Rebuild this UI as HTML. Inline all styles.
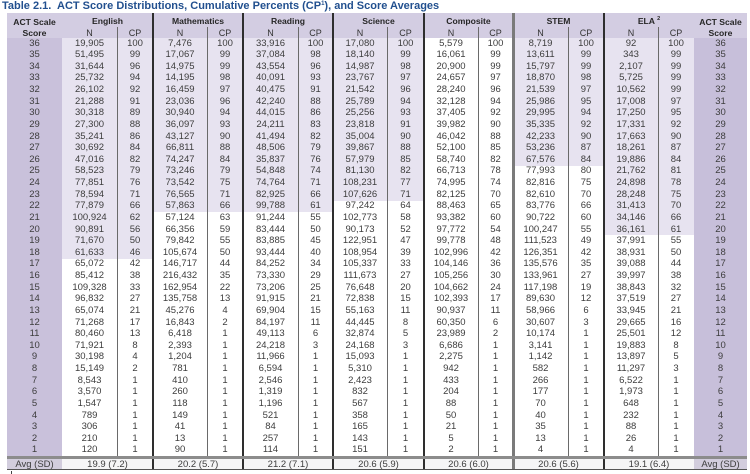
<!DOCTYPE html>
<html>
<head>
<meta charset="utf-8">
<style>
html,body{margin:0;padding:0}
body{width:750px;height:474px;background:#fff;position:relative;overflow:hidden;font-family:"Liberation Sans",Arial,sans-serif}
.a{position:absolute}
.t{position:absolute;text-align:center;white-space:nowrap}
.h{font-weight:bold;font-size:8.6px;color:#262626;line-height:12px;height:12px}
.s{font-size:9px;color:#333;line-height:12px;height:12px}
#g{position:absolute;left:7px;top:37.5px;width:740px;display:grid;grid-template-columns:55px 55px 36px 54px 36px 55px 35px 54px 37px 54px 35px 55px 36px 54px 36px 53px;grid-auto-rows:11.64px;font-size:9.5px;color:#3d3d3d}
#g span{text-align:center;line-height:11.64px;white-space:nowrap}
.av{position:absolute;top:458.5px;height:11px;line-height:11px;font-size:9.5px;color:#3d3d3d;text-align:center}
</style>
</head>
<body>
<div class="a" style="left:2px;top:0;height:12px;line-height:12px;font-size:11px;font-weight:bold;color:#22508f;white-space:nowrap">Table 2.1.&nbsp; ACT Score Distributions, Cumulative Percents (CP<sup style="font-size:6px;vertical-align:4px;line-height:0">1</sup>), and Score Averages</div>

<!-- backgrounds -->
<div class="a" style="left:7px;top:13px;width:740px;height:24.5px;background:#d3cde2"></div>
<div class="a" style="left:7px;top:37.5px;width:55px;height:418px;background:#c9c1db"></div>
<div class="a" style="left:694px;top:37.5px;width:53px;height:418px;background:#c7bfda"></div>
<div class="a" style="left:62px;top:37.5px;width:91px;height:221.2px;background:#e7e3f0"></div>
<div class="a" style="left:153px;top:37.5px;width:90px;height:174.6px;background:#e7e3f0"></div>
<div class="a" style="left:243px;top:37.5px;width:90px;height:174.6px;background:#e7e3f0"></div>
<div class="a" style="left:333px;top:37.5px;width:91px;height:163px;background:#e7e3f0"></div>
<div class="a" style="left:513px;top:37.5px;width:91px;height:128px;background:#e7e3f0"></div>
<div class="a" style="left:604px;top:37.5px;width:90px;height:197.9px;background:#e7e3f0"></div>
<!-- avg row bg -->
<div class="a" style="left:7px;top:458.5px;width:740px;height:11px;background:#f5f5f6"></div>
<div class="a" style="left:7px;top:458.5px;width:55px;height:11px;background:#d2cddd"></div>
<div class="a" style="left:694px;top:458.5px;width:53px;height:11px;background:#d2cddd"></div>

<!-- thin N/CP lines -->
<div class="a" style="left:116.5px;top:27px;width:1px;height:428.5px;background:#6a6a6a"></div>
<div class="a" style="left:206.5px;top:27px;width:1px;height:428.5px;background:#6a6a6a"></div>
<div class="a" style="left:297.5px;top:27px;width:1px;height:428.5px;background:#6a6a6a"></div>
<div class="a" style="left:386.5px;top:27px;width:1px;height:428.5px;background:#6a6a6a"></div>
<div class="a" style="left:477.5px;top:27px;width:1px;height:428.5px;background:#6a6a6a"></div>
<div class="a" style="left:567.5px;top:27px;width:1px;height:428.5px;background:#6a6a6a"></div>
<div class="a" style="left:657.5px;top:27px;width:1px;height:428.5px;background:#6a6a6a"></div>
<!-- thick subject lines -->
<div class="a" style="left:152px;top:13px;width:2px;height:457px;background:#2e2e2e"></div>
<div class="a" style="left:242px;top:13px;width:2px;height:457px;background:#2e2e2e"></div>
<div class="a" style="left:332px;top:13px;width:2px;height:457px;background:#2e2e2e"></div>
<div class="a" style="left:423px;top:13px;width:2px;height:457px;background:#2e2e2e"></div>
<div class="a" style="left:511.5px;top:13px;width:3px;height:457px;background:#7a7a7a"></div>
<div class="a" style="left:603px;top:13px;width:2px;height:457px;background:#2e2e2e"></div>
<!-- avg separators -->
<div class="a" style="left:7px;top:455.5px;width:740px;height:3px;background:#8c8c8c"></div>
<div class="a" style="left:7px;top:469.3px;width:740px;height:1px;background:#555"></div>
<div class="a" style="left:10.5px;top:471px;width:1px;height:3px;background:#444"></div>

<!-- header text -->
<div class="t h" style="left:7px;width:55px;top:15.5px">ACT Scale</div>
<div class="t h" style="left:7px;width:55px;top:27px">Score</div>
<div class="t h" style="left:694px;width:53px;top:15.5px">ACT Scale</div>
<div class="t h" style="left:694px;width:53px;top:27px">Score</div>
<div class="t h" style="left:62px;width:91px;top:14.5px">English</div>
<div class="t h" style="left:153px;width:90px;top:14.5px">Mathematics</div>
<div class="t h" style="left:243px;width:90px;top:14.5px">Reading</div>
<div class="t h" style="left:333px;width:91px;top:14.5px">Science</div>
<div class="t h" style="left:424px;width:89px;top:14.5px">Composite</div>
<div class="t h" style="left:513px;width:91px;top:14.5px">STEM</div>
<div class="t h" style="left:604px;width:90px;top:14.5px">ELA <sup style="font-size:5.5px;vertical-align:4px;line-height:0">2</sup></div>

<div class="t s" style="left:62px;width:55px;top:27px">N</div>
<div class="t s" style="left:117px;width:36px;top:27px">CP</div>
<div class="t s" style="left:153px;width:54px;top:27px">N</div>
<div class="t s" style="left:207px;width:36px;top:27px">CP</div>
<div class="t s" style="left:243px;width:55px;top:27px">N</div>
<div class="t s" style="left:298px;width:35px;top:27px">CP</div>
<div class="t s" style="left:333px;width:54px;top:27px">N</div>
<div class="t s" style="left:387px;width:37px;top:27px">CP</div>
<div class="t s" style="left:424px;width:54px;top:27px">N</div>
<div class="t s" style="left:478px;width:35px;top:27px">CP</div>
<div class="t s" style="left:513px;width:55px;top:27px">N</div>
<div class="t s" style="left:568px;width:36px;top:27px">CP</div>
<div class="t s" style="left:604px;width:54px;top:27px">N</div>
<div class="t s" style="left:658px;width:36px;top:27px">CP</div>

<div id="g">
<span>36</span><span>19,905</span><span>100</span><span>7,476</span><span>100</span><span>33,916</span><span>100</span><span>17,080</span><span>100</span><span>5,579</span><span>100</span><span>8,719</span><span>100</span><span>92</span><span>100</span><span>36</span>
<span>35</span><span>51,495</span><span>99</span><span>17,067</span><span>99</span><span>37,084</span><span>98</span><span>18,140</span><span>99</span><span>16,061</span><span>99</span><span>13,611</span><span>99</span><span>343</span><span>99</span><span>35</span>
<span>34</span><span>31,644</span><span>96</span><span>14,975</span><span>99</span><span>43,554</span><span>96</span><span>14,987</span><span>98</span><span>20,900</span><span>99</span><span>15,797</span><span>99</span><span>2,107</span><span>99</span><span>34</span>
<span>33</span><span>25,732</span><span>94</span><span>14,195</span><span>98</span><span>40,091</span><span>93</span><span>23,767</span><span>97</span><span>24,657</span><span>97</span><span>18,870</span><span>98</span><span>5,725</span><span>99</span><span>33</span>
<span>32</span><span>26,102</span><span>92</span><span>16,459</span><span>97</span><span>40,475</span><span>91</span><span>21,542</span><span>96</span><span>28,240</span><span>96</span><span>21,539</span><span>97</span><span>10,562</span><span>99</span><span>32</span>
<span>31</span><span>21,288</span><span>91</span><span>23,036</span><span>96</span><span>42,240</span><span>88</span><span>25,789</span><span>94</span><span>32,128</span><span>94</span><span>25,986</span><span>95</span><span>17,008</span><span>97</span><span>31</span>
<span>30</span><span>30,318</span><span>89</span><span>30,940</span><span>94</span><span>44,015</span><span>86</span><span>25,256</span><span>93</span><span>37,405</span><span>92</span><span>29,995</span><span>94</span><span>17,250</span><span>95</span><span>30</span>
<span>29</span><span>27,300</span><span>88</span><span>36,097</span><span>93</span><span>24,211</span><span>83</span><span>23,818</span><span>91</span><span>39,982</span><span>90</span><span>35,335</span><span>92</span><span>17,331</span><span>92</span><span>29</span>
<span>28</span><span>35,241</span><span>86</span><span>43,127</span><span>90</span><span>41,494</span><span>82</span><span>35,004</span><span>90</span><span>46,042</span><span>88</span><span>42,233</span><span>90</span><span>17,663</span><span>90</span><span>28</span>
<span>27</span><span>30,692</span><span>84</span><span>66,811</span><span>88</span><span>48,506</span><span>79</span><span>39,867</span><span>88</span><span>52,100</span><span>85</span><span>53,236</span><span>87</span><span>18,261</span><span>87</span><span>27</span>
<span>26</span><span>47,016</span><span>82</span><span>74,247</span><span>84</span><span>35,837</span><span>76</span><span>57,979</span><span>85</span><span>58,740</span><span>82</span><span>67,576</span><span>84</span><span>19,886</span><span>84</span><span>26</span>
<span>25</span><span>58,523</span><span>79</span><span>73,246</span><span>79</span><span>54,848</span><span>74</span><span>81,130</span><span>82</span><span>66,713</span><span>78</span><span>77,993</span><span>80</span><span>21,762</span><span>81</span><span>25</span>
<span>24</span><span>77,851</span><span>76</span><span>73,542</span><span>75</span><span>74,764</span><span>71</span><span>108,231</span><span>77</span><span>74,995</span><span>74</span><span>82,816</span><span>75</span><span>24,898</span><span>78</span><span>24</span>
<span>23</span><span>78,594</span><span>71</span><span>76,565</span><span>71</span><span>82,925</span><span>66</span><span>107,626</span><span>71</span><span>82,125</span><span>70</span><span>82,610</span><span>70</span><span>28,248</span><span>75</span><span>23</span>
<span>22</span><span>77,879</span><span>66</span><span>57,863</span><span>66</span><span>99,788</span><span>61</span><span>97,242</span><span>64</span><span>88,463</span><span>65</span><span>83,776</span><span>66</span><span>31,413</span><span>70</span><span>22</span>
<span>21</span><span>100,924</span><span>62</span><span>57,124</span><span>63</span><span>91,244</span><span>55</span><span>102,773</span><span>58</span><span>93,382</span><span>60</span><span>90,722</span><span>60</span><span>34,146</span><span>66</span><span>21</span>
<span>20</span><span>90,891</span><span>56</span><span>66,356</span><span>59</span><span>83,444</span><span>50</span><span>90,173</span><span>52</span><span>97,772</span><span>54</span><span>100,247</span><span>55</span><span>36,161</span><span>61</span><span>20</span>
<span>19</span><span>71,670</span><span>50</span><span>79,842</span><span>55</span><span>83,885</span><span>45</span><span>122,951</span><span>47</span><span>99,778</span><span>48</span><span>111,523</span><span>49</span><span>37,991</span><span>55</span><span>19</span>
<span>18</span><span>61,633</span><span>46</span><span>105,674</span><span>50</span><span>93,444</span><span>40</span><span>108,954</span><span>39</span><span>102,996</span><span>42</span><span>126,351</span><span>42</span><span>38,931</span><span>50</span><span>18</span>
<span>17</span><span>65,072</span><span>42</span><span>146,717</span><span>44</span><span>84,252</span><span>34</span><span>105,337</span><span>33</span><span>104,146</span><span>36</span><span>135,576</span><span>35</span><span>39,088</span><span>44</span><span>17</span>
<span>16</span><span>85,412</span><span>38</span><span>216,432</span><span>35</span><span>73,330</span><span>29</span><span>111,673</span><span>27</span><span>105,256</span><span>30</span><span>133,961</span><span>27</span><span>39,997</span><span>38</span><span>16</span>
<span>15</span><span>109,328</span><span>33</span><span>162,954</span><span>22</span><span>73,206</span><span>25</span><span>76,648</span><span>20</span><span>104,662</span><span>24</span><span>117,198</span><span>19</span><span>38,843</span><span>32</span><span>15</span>
<span>14</span><span>96,832</span><span>27</span><span>135,758</span><span>13</span><span>91,915</span><span>21</span><span>72,838</span><span>15</span><span>102,393</span><span>17</span><span>89,630</span><span>12</span><span>37,519</span><span>27</span><span>14</span>
<span>13</span><span>65,074</span><span>21</span><span>45,276</span><span>4</span><span>69,904</span><span>15</span><span>55,163</span><span>11</span><span>90,937</span><span>11</span><span>58,966</span><span>6</span><span>33,945</span><span>21</span><span>13</span>
<span>12</span><span>71,268</span><span>17</span><span>16,843</span><span>2</span><span>84,197</span><span>11</span><span>44,445</span><span>8</span><span>60,350</span><span>6</span><span>30,607</span><span>3</span><span>29,665</span><span>16</span><span>12</span>
<span>11</span><span>80,460</span><span>13</span><span>6,418</span><span>1</span><span>49,113</span><span>6</span><span>32,874</span><span>5</span><span>23,989</span><span>2</span><span>10,174</span><span>1</span><span>25,501</span><span>12</span><span>11</span>
<span>10</span><span>71,921</span><span>8</span><span>2,393</span><span>1</span><span>24,218</span><span>3</span><span>24,168</span><span>3</span><span>6,686</span><span>1</span><span>3,141</span><span>1</span><span>19,883</span><span>8</span><span>10</span>
<span>9</span><span>30,198</span><span>4</span><span>1,204</span><span>1</span><span>11,966</span><span>1</span><span>15,093</span><span>1</span><span>2,275</span><span>1</span><span>1,142</span><span>1</span><span>13,897</span><span>5</span><span>9</span>
<span>8</span><span>15,149</span><span>2</span><span>781</span><span>1</span><span>6,594</span><span>1</span><span>5,310</span><span>1</span><span>942</span><span>1</span><span>582</span><span>1</span><span>11,297</span><span>3</span><span>8</span>
<span>7</span><span>8,543</span><span>1</span><span>410</span><span>1</span><span>2,546</span><span>1</span><span>2,423</span><span>1</span><span>433</span><span>1</span><span>266</span><span>1</span><span>6,522</span><span>1</span><span>7</span>
<span>6</span><span>3,570</span><span>1</span><span>260</span><span>1</span><span>1,319</span><span>1</span><span>832</span><span>1</span><span>204</span><span>1</span><span>177</span><span>1</span><span>1,973</span><span>1</span><span>6</span>
<span>5</span><span>1,547</span><span>1</span><span>118</span><span>1</span><span>1,196</span><span>1</span><span>567</span><span>1</span><span>88</span><span>1</span><span>70</span><span>1</span><span>648</span><span>1</span><span>5</span>
<span>4</span><span>789</span><span>1</span><span>149</span><span>1</span><span>521</span><span>1</span><span>358</span><span>1</span><span>50</span><span>1</span><span>40</span><span>1</span><span>232</span><span>1</span><span>4</span>
<span>3</span><span>306</span><span>1</span><span>41</span><span>1</span><span>84</span><span>1</span><span>165</span><span>1</span><span>21</span><span>1</span><span>35</span><span>1</span><span>88</span><span>1</span><span>3</span>
<span>2</span><span>210</span><span>1</span><span>13</span><span>1</span><span>257</span><span>1</span><span>143</span><span>1</span><span>5</span><span>1</span><span>13</span><span>1</span><span>26</span><span>1</span><span>2</span>
<span>1</span><span>120</span><span>1</span><span>90</span><span>1</span><span>114</span><span>1</span><span>151</span><span>1</span><span>2</span><span>1</span><span>4</span><span>1</span><span>4</span><span>1</span><span>1</span>
</div>

<!-- avg row -->
<div class="av" style="left:7px;width:55px">Avg (SD)</div>
<div class="av" style="left:62px;width:91px">19.9 (7.2)</div>
<div class="av" style="left:153px;width:90px">20.2 (5.7)</div>
<div class="av" style="left:243px;width:90px">21.2 (7.1)</div>
<div class="av" style="left:333px;width:91px">20.6 (5.9)</div>
<div class="av" style="left:424px;width:89px">20.6 (6.0)</div>
<div class="av" style="left:513px;width:91px">20.6 (5.6)</div>
<div class="av" style="left:604px;width:90px">19.1 (6.4)</div>
<div class="av" style="left:694px;width:53px">Avg (SD)</div>
</body>
</html>
